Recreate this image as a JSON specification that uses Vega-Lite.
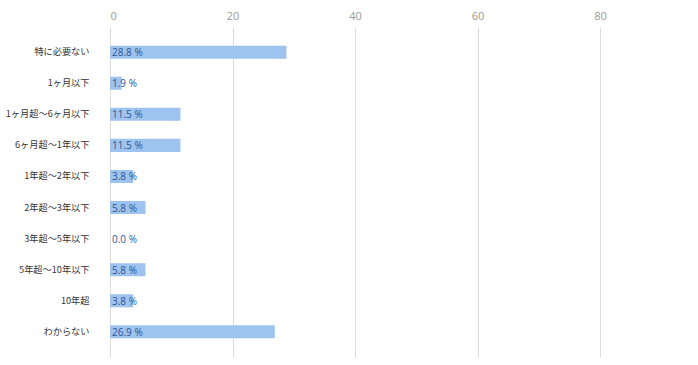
{
  "$schema": "https://vega.github.io/schema/vega-lite/v6.json",
  "autosize": {"type": "none"},
  "padding": {"left": 110, "top": 27, "right": 6, "bottom": 8},
  "width": 582,
  "height": 330,
  "background": "white",
  "config": {
    "view": {"stroke": null},
    "font": "Noto Sans CJK JP"
  },
  "data": {
    "values": [
      {"cat": "特に必要ない", "v": 28.8},
      {"cat": "1ヶ月以下", "v": 1.9},
      {"cat": "1ヶ月超〜6ヶ月以下", "v": 11.5},
      {"cat": "6ヶ月超〜1年以下", "v": 11.5},
      {"cat": "1年超〜2年以下", "v": 3.8},
      {"cat": "2年超〜3年以下", "v": 5.8},
      {"cat": "3年超〜5年以下", "v": 0.0},
      {"cat": "5年超〜10年以下", "v": 5.8},
      {"cat": "10年超", "v": 3.8},
      {"cat": "わからない", "v": 26.9}
    ]
  },
  "encoding": {
    "y": {
      "field": "cat",
      "type": "nominal",
      "sort": null,
      "scale": {"paddingInner": 0.58, "paddingOuter": 0.6},
      "axis": {
        "title": null,
        "domain": false,
        "ticks": false,
        "labelPadding": 21,
        "labelFontSize": 9.2,
        "labelColor": "#333333",
        "labelFont": "Noto Sans CJK JP",
        "labelLimit": 200
      }
    }
  },
  "layer": [
    {
      "mark": {"type": "bar", "color": "#9DC3EE"},
      "encoding": {
        "x": {
          "field": "v",
          "type": "quantitative",
          "scale": {"domain": [0, 95], "nice": false},
          "axis": {
            "orient": "top",
            "title": null,
            "values": [0, 20, 40, 60, 80],
            "domain": false,
            "ticks": false,
            "labelPadding": 6,
            "labelFontSize": 11,
            "labelColor": "#9a9a9a",
            "labelFont": "Open Sans",
            "gridColor": "#dcdcdc",
            "gridWidth": 1
          }
        }
      }
    },
    {
      "mark": {
        "type": "text",
        "align": "left",
        "baseline": "middle",
        "dx": 2,
        "dy": 1,
        "fontSize": 10,
        "color": "#2F5597",
        "font": "Open Sans",
        "text": {"expr": "format(datum.v, '.1f') + ' %'"}
      },
      "encoding": {
        "x": {"datum": 0, "type": "quantitative"}
      }
    }
  ]
}
